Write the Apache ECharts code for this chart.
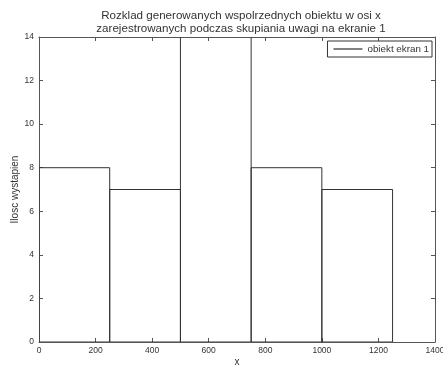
<!DOCTYPE html>
<html>
<head>
<meta charset="utf-8">
<script src="https://cdn.jsdelivr.net/npm/echarts@6/dist/echarts.min.js"></script>
<style>
  html, body { margin: 0; padding: 0; background: #fff; }
  #chart { width: 443px; height: 368px; }
</style>
</head>
<body>
<div id="chart"></div>
<script>
// Histogram of x positions: bin edges and counts per bin
const binEdges = [0, 250, 500, 750, 1000, 1250];
const counts = [8, 7, 16, 8, 7];
const xTicks = [0, 200, 400, 600, 800, 1000, 1200, 1400];
const yTicks = [0, 2, 4, 6, 8, 10, 12, 14];
const seriesName = 'obiekt ekran 1';

const bins = counts.map((c, i) => [binEdges[i], binEdges[i + 1], c]);

const font = 'Liberation Sans, Arial, sans-serif';
const axisColor = '#555';
const textColor = '#333';

const chart = echarts.init(document.getElementById('chart'), null, { renderer: 'canvas' });

// Every axis of the box gets its own line/tick settings, ticks pointing inward
function boxAxis(ticks, position, extra) {
  return Object.assign({
    type: 'value',
    position: position,
    min: ticks[0],
    max: ticks[ticks.length - 1],
    interval: ticks[1] - ticks[0],
    splitLine: { show: false },
    axisLine: { show: true, onZero: false, lineStyle: { color: axisColor, width: 1 } },
    axisTick: { show: true, inside: true, length: 4, lineStyle: { color: axisColor, width: 1 } },
    axisLabel: { show: false }
  }, extra || {});
}

const plainNumber = v => String(v);

chart.setOption({
  animation: false,
  backgroundColor: '#fff',
  title: {
    text: 'Rozklad generowanych wspolrzednych obiektu w osi x\nzarejestrowanych podczas skupiania uwagi na ekranie 1',
    left: 236,
    top: 4,
    textAlign: 'center',
    textStyle: { fontFamily: font, fontSize: 11.6, fontWeight: 'normal', color: textColor, lineHeight: 13 }
  },
  legend: {
    right: 11,
    top: 41,
    orient: 'vertical',
    data: [{ name: seriesName, icon: 'rect' }],
    itemWidth: 29,
    itemHeight: 1,
    itemGap: 0,
    padding: [3, 3, 3, 6],
    borderColor: '#333',
    borderWidth: 1,
    backgroundColor: '#fff',
    textStyle: { fontFamily: font, fontSize: 9.8, color: textColor }
  },
  grid: {
    left: 39, right: 8, top: 37, bottom: 26, containLabel: false,
    // let the last tick label run past the canvas edge instead of shrinking the plot
    outerBounds: { left: -40, right: -40, top: -40, bottom: -40 }
  },
  xAxis: [
    boxAxis(xTicks, 'bottom', {
      name: 'x',
      nameLocation: 'middle',
      nameGap: 15,
      nameMoveOverlap: false,
      nameTextStyle: { fontFamily: font, fontSize: 10, color: textColor },
      axisLabel: { show: true, fontFamily: font, fontSize: 8.5, color: textColor, margin: 4, formatter: plainNumber }
    }),
    boxAxis(xTicks, 'top')
  ],
  yAxis: [
    boxAxis(yTicks, 'left', {
      name: 'Ilosc wystapien',
      nameLocation: 'middle',
      nameGap: 19,
      nameMoveOverlap: false,
      nameTextStyle: { fontFamily: font, fontSize: 10, color: textColor },
      axisLabel: { show: true, fontFamily: font, fontSize: 8.5, color: textColor, margin: 5, formatter: plainNumber }
    }),
    boxAxis(yTicks, 'right')
  ],
  series: [{
    name: seriesName,
    type: 'custom',
    xAxisIndex: 0,
    yAxisIndex: 0,
    clip: true,
    itemStyle: { color: '#000' },
    encode: { x: [0, 1], y: 2 },
    data: bins,
    renderItem: function (params, api) {
      const p0 = api.coord([api.value(0), 0]);
      const p1 = api.coord([api.value(1), api.value(2)]);
      return {
        type: 'rect',
        shape: { x: p0[0], y: p1[1], width: p1[0] - p0[0], height: p0[1] - p1[1] },
        style: { fill: 'none', stroke: '#333', lineWidth: 1 }
      };
    }
  }]
});
</script>
</body>
</html>
